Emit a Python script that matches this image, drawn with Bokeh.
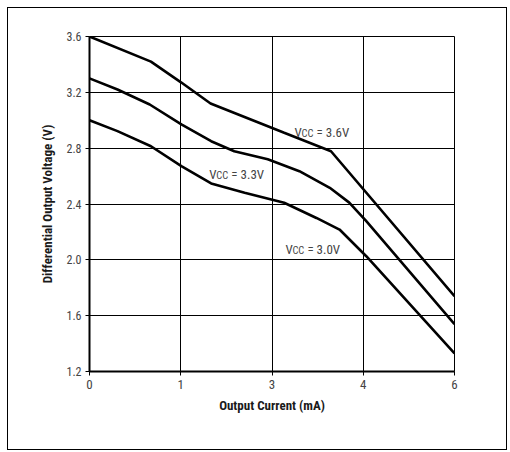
from bokeh.plotting import figure
from bokeh.models import Range1d, FixedTicker, PrintfTickFormatter, ColumnDataSource
from bokeh.core.properties import value
from bokeh.embed import file_html
from bokeh.resources import INLINE

# ---- data ----
x_ticks = [0, 1.5, 3, 4.5, 6]
x_tick_labels = ["0", "1", "3", "4", "6"]
y_ticks = [1.2, 1.6, 2.0, 2.4, 2.8, 3.2, 3.6]

vcc36_x = [0, 1.01, 1.51, 1.99, 3.2, 3.97, 6.0]
vcc36_y = [3.6, 3.42, 3.27, 3.12, 2.91, 2.778, 1.74]

vcc33_x = [0, 0.46, 0.99, 1.51, 2.0, 2.38, 2.93, 3.45, 3.95, 4.27, 4.55, 6.0]
vcc33_y = [3.30, 3.22, 3.113, 2.97, 2.85, 2.778, 2.72, 2.635, 2.516, 2.41, 2.277, 1.54]

vcc30_x = [0, 0.46, 1.01, 1.51, 2.0, 2.55, 3.2, 3.73, 4.11, 4.55, 6.0]
vcc30_y = [3.0, 2.922, 2.814, 2.671, 2.547, 2.48, 2.409, 2.30, 2.217, 2.026, 1.33]

label_x = [3.37, 1.97, 3.22]
label_y = [2.912, 2.611, 2.074]
label_rest = ["= 3.6V", "= 3.3V", "= 3.0V"]

FONT = "Liberation Sans Narrow, Arial Narrow, Roboto Condensed, Liberation Sans"
GRAY = "#444444"

p = figure(width=500, height=443, output_backend="svg", toolbar_location=None,
           x_range=Range1d(0, 6), y_range=Range1d(1.2, 3.6),
           min_border_left=81, min_border_top=28, min_border_right=54, min_border_bottom=80,
           styles={"border": "1px solid black", "margin-left": "7px", "margin-top": "7px"})
p.outline_line_color = "black"
p.outline_line_width = 1
p.background_fill_color = "white"
p.border_fill_color = "white"

# axes
p.xaxis.ticker = FixedTicker(ticks=x_ticks)
p.xaxis.major_label_overrides = {float(t): l for t, l in zip(x_ticks, x_tick_labels)}
p.yaxis.ticker = FixedTicker(ticks=y_ticks)
p.yaxis.formatter = PrintfTickFormatter(format="%.1f")
for ax in (p.xaxis[0], p.yaxis[0]):
    ax.axis_line_width = 2
    ax.axis_line_color = "black"
    ax.major_tick_out = 4
    ax.major_tick_in = 0
    ax.minor_tick_out = 0
    ax.minor_tick_in = 0
    ax.major_tick_line_color = "black"
    ax.major_label_text_font = FONT
    ax.major_label_text_color = GRAY
    ax.axis_label_text_font = FONT
    ax.axis_label_text_font_style = "bold"
    ax.axis_label_text_font_size = "13px"
    ax.axis_label_text_color = "#1a1a1a"
p.xaxis.major_label_text_font_size = "13px"
p.yaxis.major_label_text_font_size = "12px"
p.xaxis.major_label_standoff = 4
p.yaxis.major_label_standoff = 4
p.xaxis.axis_label = "Output Current (mA)"
p.yaxis.axis_label = "Differential Output Voltage (V)"
p.xaxis.axis_label_standoff = 6
p.yaxis.axis_label_standoff = 8

# grid
p.xgrid.ticker = FixedTicker(ticks=x_ticks)
p.ygrid.ticker = FixedTicker(ticks=y_ticks)
p.xgrid.grid_line_color = "black"
p.ygrid.grid_line_color = "black"
p.xgrid.grid_line_width = 1
p.ygrid.grid_line_width = 1

# curves
for xs, ys in ((vcc36_x, vcc36_y), (vcc33_x, vcc33_y), (vcc30_x, vcc30_y)):
    p.line(xs, ys, line_color="black", line_width=2.6)

# labels: V + small CC + rest
src = ColumnDataSource(dict(x=label_x, y=label_y, v=["V"] * 3, cc=["CC"] * 3, rest=label_rest))
p.text(x="x", y="y", text="v", source=src, text_font=value(FONT), text_font_size="13px",
       text_color=GRAY, text_align="left", text_baseline="alphabetic")
p.text(x="x", y="y", text="cc", source=src, text_font=value(FONT), text_font_size="10.5px",
       text_color=GRAY, text_align="left", text_baseline="alphabetic", x_offset=7, y_offset=1)
p.text(x="x", y="y", text="rest", source=src, text_font=value(FONT), text_font_size="13px",
       text_color=GRAY, text_align="left", text_baseline="alphabetic", x_offset=22)

open("out.html", "w").write(file_html(p, INLINE))
